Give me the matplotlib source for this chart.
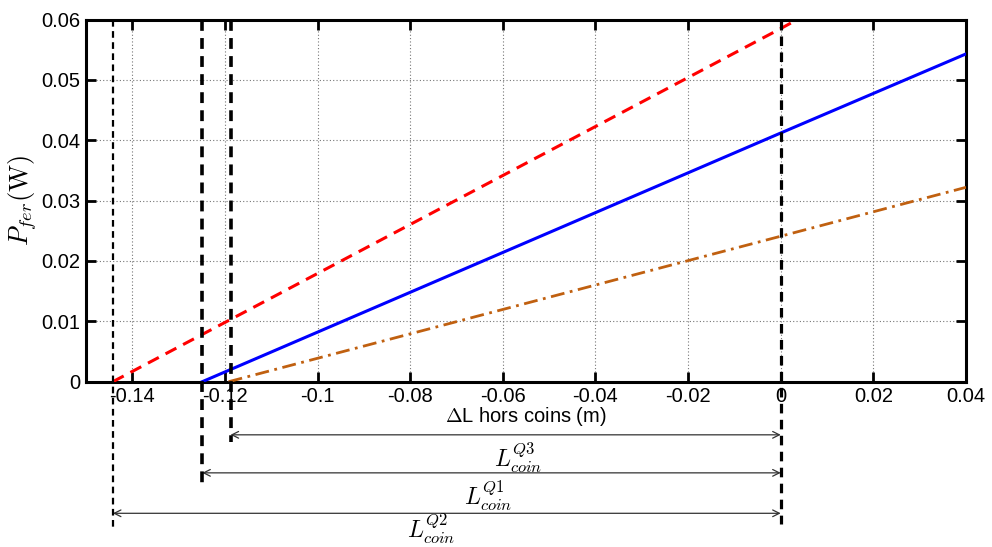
import matplotlib
matplotlib.use('Agg')
import matplotlib.pyplot as plt

plt.rcParams['font.family'] = ['Liberation Sans', 'DejaVu Sans']
plt.rcParams['mathtext.fontset'] = 'cm'

# ── Data ────────────────────────────────────────────────────
red_x   = [-0.1442, 0.0, 0.0036]
red_y   = [0.0, 0.0585, 0.06]
blue_x  = [-0.1249, 0.0, 0.04]
blue_y  = [0.0, 0.0412, 0.0543]
brown_x = [-0.1192, 0.0, 0.04]
brown_y = [0.0, 0.0241, 0.0322]

# vertical markers: x position, bottom (data y), line width
vline_x   = [-0.1442, -0.1249, -0.1188, 0.0]
vline_bot = [-0.0246, -0.0168, -0.0100, -0.0236]
vline_lw  = [1.6, 2.6, 2.6, 2.3]

# dimension arrows: start x, end x, y, label, label position
arrow_x0  = [-0.1188, -0.1249, -0.1442]
arrow_y   = [-0.0088, -0.0151, -0.0218]
arrow_lbl = [r'$L_{coin}^{Q3}$', r'$L_{coin}^{Q1}$', r'$L_{coin}^{Q2}$']
lbl_x     = [-0.0567, -0.0632, -0.0755]
lbl_y     = [-0.0126, -0.0189, -0.0243]

xticks = [-0.14, -0.12, -0.1, -0.08, -0.06, -0.04, -0.02, 0, 0.02, 0.04]
yticks = [0, 0.01, 0.02, 0.03, 0.04, 0.05, 0.06]

fig = plt.figure(figsize=(9.92, 5.47), dpi=100)
ax = fig.add_axes([86/992, 1 - 381.7/547, (966-86)/992, (381.7-19.5)/547])

ax.plot(red_x, red_y, color='#ff0000', lw=2.2, linestyle=(0, (4, 2.5)), zorder=3)
ax.plot(blue_x, blue_y, color='#0000ff', lw=2.2, zorder=3)
ax.plot(brown_x, brown_y, color='#c06010', lw=2.0, linestyle=(0, (5, 2, 1, 2)), zorder=3)

for x, yb, lw in zip(vline_x, vline_bot, vline_lw):
    ax.plot([x, x], [0.06, yb], color='black', lw=lw, linestyle=(0, (3, 2)),
            clip_on=False, zorder=4)

for x0, y, lbl, lx, ly in zip(arrow_x0, arrow_y, arrow_lbl, lbl_x, lbl_y):
    ax.annotate('', xy=(x0, y), xytext=(0.0, y), xycoords='data',
                annotation_clip=False,
                arrowprops=dict(arrowstyle='<->', color='#333333', lw=0.9,
                                shrinkA=0, shrinkB=0, mutation_scale=12))
    ax.text(lx, ly, lbl, fontsize=17, ha='center', va='center')

ax.set_xlim(-0.15, 0.04)
ax.set_ylim(0, 0.06)
ax.set_xticks(xticks)
ax.set_xticklabels(['-0.14', '-0.12', '-0.1', '-0.08', '-0.06', '-0.04',
                    '-0.02', '0', '0.02', '0.04'])
ax.set_yticks(yticks)
ax.set_yticklabels(['0', '0.01', '0.02', '0.03', '0.04', '0.05', '0.06'])
ax.tick_params(direction='in', length=7, width=2, labelsize=14.5,
               top=True, right=True, pad=4)
for s in ax.spines.values():
    s.set_linewidth(2.2)
ax.grid(True, color='#777777', linestyle=(0, (1, 2)), lw=0.8)

ax.set_xlabel(r'$\Delta$L hors coins (m)', fontsize=14.5, labelpad=-1)
ax.set_ylabel(r'$P_{fer}\mathrm{(W)}$', fontsize=19, labelpad=2)

fig.savefig('out.png', dpi=100)
